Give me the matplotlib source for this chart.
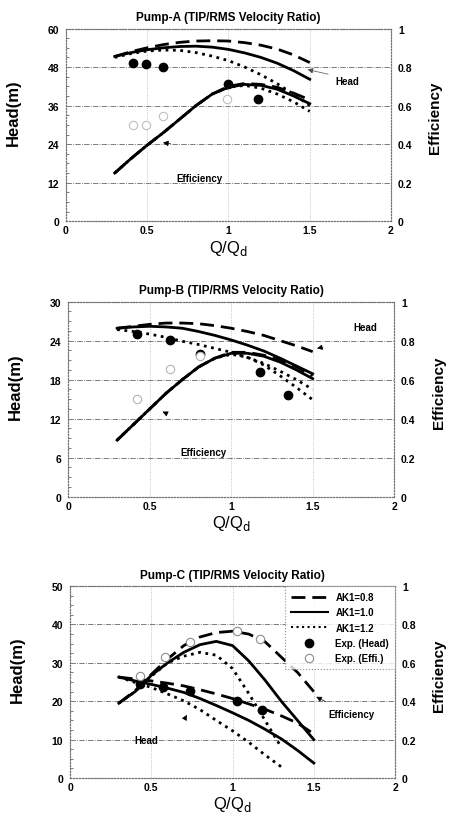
import matplotlib
matplotlib.use('Agg')
from matplotlib import pyplot as plt
from matplotlib.lines import Line2D

plt.rcParams['font.family'] = ['Liberation Sans', 'DejaVu Sans']

# flow ratio grid used by the computed curves
Q = [0.3, 0.4, 0.5, 0.6, 0.7, 0.8, 0.9, 1.0, 1.1, 1.2, 1.3, 1.4, 1.5]
Q_short = [0.3, 0.4, 0.5, 0.6, 0.7, 0.8, 0.9, 1.0, 1.1, 1.2, 1.3]

# ---- Pump-A ----
A_head_08 = [51.3, 52.8, 54.0, 55.0, 55.7, 56.1, 56.2, 56.1, 55.6, 54.8, 53.6, 51.8, 49.4]
A_head_10 = [51.3, 52.5, 53.4, 54.0, 54.4, 54.5, 54.2, 53.5, 52.4, 51.0, 49.2, 46.9, 44.2]
A_head_12 = [51.0, 52.2, 53.0, 53.3, 53.2, 52.5, 51.4, 50.0, 48.0, 45.6, 42.8, 39.6, 36.0]
A_eff_08 = [0.25, 0.325, 0.395, 0.46, 0.53, 0.60, 0.66, 0.70, 0.715, 0.71, 0.695, 0.665, 0.63]
A_eff_10 = [0.25, 0.325, 0.395, 0.46, 0.53, 0.60, 0.66, 0.695, 0.71, 0.705, 0.685, 0.65, 0.61]
A_eff_12 = [0.25, 0.325, 0.395, 0.46, 0.53, 0.60, 0.66, 0.695, 0.705, 0.69, 0.66, 0.62, 0.57]
A_exp_q_head = [0.41, 0.49, 0.60, 1.0, 1.18]
A_exp_head = [49.3, 48.9, 48.0, 42.6, 38.0]
A_exp_q_eff = [0.41, 0.49, 0.60, 0.99]
A_exp_eff = [0.497, 0.497, 0.546, 0.633]

# ---- Pump-B ----
B_head_08 = [25.9, 26.2, 26.5, 26.7, 26.7, 26.6, 26.3, 25.9, 25.4, 24.8, 24.0, 23.2, 22.3]
B_head_10 = [25.9, 26.1, 26.2, 26.1, 25.9, 25.4, 24.8, 24.1, 23.3, 22.4, 21.3, 20.1, 18.9]
B_head_12 = [25.7, 25.4, 25.0, 24.5, 23.9, 23.4, 22.8, 22.2, 21.4, 20.5, 19.3, 18.0, 16.5]
B_eff_08 = [0.29, 0.37, 0.45, 0.53, 0.60, 0.665, 0.71, 0.74, 0.74, 0.725, 0.70, 0.665, 0.62]
B_eff_10 = [0.29, 0.37, 0.45, 0.53, 0.60, 0.665, 0.71, 0.735, 0.735, 0.72, 0.69, 0.65, 0.605]
B_eff_12 = [0.29, 0.37, 0.45, 0.53, 0.60, 0.665, 0.71, 0.73, 0.715, 0.675, 0.62, 0.56, 0.497]
B_exp_q_head = [0.42, 0.624, 0.808, 1.176, 1.35]
B_exp_head = [25.0, 24.1, 22.0, 19.2, 15.7]
B_exp_q_eff = [0.42, 0.624, 0.808]
B_exp_eff = [0.50, 0.655, 0.72]

# ---- Pump-C ----
C_head_08 = [26.3, 25.8, 25.3, 24.7, 24.0, 23.0, 21.9, 20.7, 19.3, 17.9, 16.2, 14.3, 11.5]
C_head_10 = [26.3, 25.3, 24.4, 23.4, 22.3, 20.7, 18.9, 17.0, 15.0, 12.7, 10.2, 7.2, 3.9]
C_head_12 = [26.3, 24.9, 23.6, 21.9, 20.1, 17.8, 15.0, 12.3, 9.3, 6.0, 2.9]
C_eff_08 = [0.39, 0.455, 0.54, 0.62, 0.69, 0.735, 0.758, 0.765, 0.75, 0.71, 0.63, 0.55, 0.45]
C_eff_10 = [0.39, 0.45, 0.535, 0.60, 0.655, 0.695, 0.712, 0.69, 0.61, 0.51, 0.40, 0.30, 0.20]
C_eff_12 = [0.39, 0.45, 0.53, 0.60, 0.635, 0.655, 0.64, 0.57, 0.44, 0.30, 0.16]
C_exp_q_head = [0.43, 0.574, 0.738, 1.026, 1.18]
C_exp_head = [24.6, 23.6, 22.7, 20.0, 17.8]
C_exp_q_eff = [0.43, 0.585, 0.738, 1.026, 1.17]
C_exp_eff = [0.53, 0.628, 0.707, 0.767, 0.724]

DASH = (0, (5, 2.5))
LW = 2.0

pumps = [
    dict(title='Pump-A (TIP/RMS Velocity Ratio)', rect=[0.146, 0.729, 0.719, 0.235],
         hmax=60, hstep=12, q12=Q,
         head=(A_head_08, A_head_10, A_head_12), eff=(A_eff_08, A_eff_10, A_eff_12),
         exph=(A_exp_q_head, A_exp_head), expe=(A_exp_q_eff, A_exp_eff), effc='0.75'),
    dict(title='Pump-B (TIP/RMS Velocity Ratio)', rect=[0.151, 0.393, 0.721, 0.238],
         hmax=30, hstep=6, q12=Q,
         head=(B_head_08, B_head_10, B_head_12), eff=(B_eff_08, B_eff_10, B_eff_12),
         exph=(B_exp_q_head, B_exp_head), expe=(B_exp_q_eff, B_exp_eff), effc='0.7'),
    dict(title='Pump-C (TIP/RMS Velocity Ratio)', rect=[0.155, 0.050, 0.719, 0.234],
         hmax=50, hstep=10, q12=Q_short,
         head=(C_head_08, C_head_10, C_head_12), eff=(C_eff_08, C_eff_10, C_eff_12),
         exph=(C_exp_q_head, C_exp_head), expe=(C_exp_q_eff, C_exp_eff), effc='0.55'),
]

fig = plt.figure(figsize=(4.52, 8.2), dpi=100)
axes = []
for p in pumps:
    ax = fig.add_axes(p['rect'])
    ax2 = ax.twinx()
    axes.append((ax, ax2))

    # computed head curves
    h08, h10, h12 = p['head']
    ax.plot(Q, h08, color='k', lw=LW, linestyle=DASH)
    ax.plot(Q, h10, color='k', lw=LW)
    ax.plot(p['q12'], h12, color='k', lw=LW, linestyle=':')
    ax.plot(p['exph'][0], p['exph'][1], 'o', color='k', ms=6)

    # computed efficiency curves
    e08, e10, e12 = p['eff']
    ax2.plot(Q, e08, color='k', lw=LW, linestyle=DASH)
    ax2.plot(Q, e10, color='k', lw=LW)
    ax2.plot(p['q12'], e12, color='k', lw=LW, linestyle=':')
    ax2.plot(p['expe'][0], p['expe'][1], 'o', mfc='white', mec=p['effc'], ms=6, mew=0.8)

    ax.set_xlim(0, 2)
    ax.set_ylim(0, p['hmax'])
    ax2.set_ylim(0, 1)
    ax.set_xticks([0, 0.5, 1, 1.5, 2])
    ax.set_xticklabels(['0', '0.5', '1', '1.5', '2'])
    ax.set_yticks(range(0, p['hmax'] + 1, p['hstep']))
    ax2.set_yticks([0, 0.2, 0.4, 0.6, 0.8, 1.0])
    ax2.set_yticklabels(['0', '0.2', '0.4', '0.6', '0.8', '1'])
    ax.set_yticks([v * p['hstep'] / 4 for v in range(1, 4 * p['hmax'] // p['hstep'])], minor=True)

    for a in (ax, ax2):
        a.tick_params(labelsize=7.5, length=0, pad=5)
        for t in a.get_xticklabels() + a.get_yticklabels():
            t.set_fontweight('bold')
        for s in a.spines.values():
            s.set_color('0.45')
            s.set_linestyle(':')
            s.set_linewidth(0.8)
    ax.tick_params(axis='x', pad=3)
    ax.tick_params(which='minor', direction='in', length=2.5, color='0.4', width=0.6)

    ax.grid(True, axis='y', color='0.4', linestyle='-.', lw=0.6)
    for xv in [0.5, 1.0, 1.5]:
        ax.axvline(xv, color='0.7', linestyle=':', lw=0.6, zorder=0)

    ax.set_title(p['title'], fontsize=8.5, fontweight='bold', pad=6)
    ax.set_ylabel('Head(m)', fontsize=12, fontweight='bold')
    ax.yaxis.set_label_coords(-0.14, 0.57)
    ax2.set_ylabel('Efficiency', fontsize=11, fontweight='bold')
    ax2.yaxis.set_label_coords(1.115, 0.54)
    ax.set_xlabel(r'Q/Q$_{\mathrm{d}}$', fontsize=12)
    ax.xaxis.set_label_coords(0.5, -0.085)

arrow = dict(arrowstyle='-|>', color='k', lw=0.5, mutation_scale=8)
txt = dict(fontsize=7, fontweight='bold', ha='center', va='center')

# Pump-A labels
ax, ax2 = axes[0]
ax.annotate('', xy=(1.47, 47.4), xytext=(1.63, 45.6),
            arrowprops=dict(arrowstyle='-|>', color='0.3', lw=0.5, mutation_scale=8))
ax.text(1.73, 43.7, 'Head', **txt)
ax2.annotate('', xy=(0.58, 0.41), xytext=(0.66, 0.40), arrowprops=arrow)
ax.text(0.82, 13.5, 'Efficiency', **txt)

# Pump-B labels
ax, ax2 = axes[1]
ax.annotate('', xy=(1.51, 22.7), xytext=(1.58, 23.1), arrowprops=arrow)
ax.text(1.82, 26.1, 'Head', **txt)
ax2.annotate('', xy=(0.563, 0.442), xytext=(0.62, 0.42), arrowprops=arrow)
ax.text(0.83, 6.95, 'Efficiency', **txt)

# Pump-C labels
ax, ax2 = axes[2]
ax.annotate('', xy=(0.728, 17.1), xytext=(0.70, 15.0), arrowprops=arrow)
ax.text(0.47, 9.9, 'Head', **txt)
ax2.annotate('', xy=(1.5, 0.43), xytext=(1.59, 0.39), arrowprops=arrow)
ax.text(1.73, 16.7, 'Efficiency', **txt)

handles = [
    Line2D([], [], color='k', lw=LW, linestyle=DASH),
    Line2D([], [], color='k', lw=1.5),
    Line2D([], [], color='k', lw=1.5, linestyle=':'),
    Line2D([], [], color='k', marker='o', linestyle='none', ms=6),
    Line2D([], [], mfc='white', mec='0.55', marker='o', linestyle='none', ms=6, mew=0.8),
]
labels = ['AK1=0.8', 'AK1=1.0', 'AK1=1.2', 'Exp. (Head)', 'Exp. (Effi.)']
leg = ax2.legend(handles, labels, loc='upper right', frameon=True, fancybox=False,
                 borderaxespad=0.0, handlelength=3.8, labelspacing=0.55, borderpad=0.6,
                 prop=dict(weight='bold', size=7))
leg.get_frame().set_edgecolor('0.45')
leg.get_frame().set_linestyle(':')
leg.get_frame().set_linewidth(0.8)

fig.savefig('out.png', dpi=100)
